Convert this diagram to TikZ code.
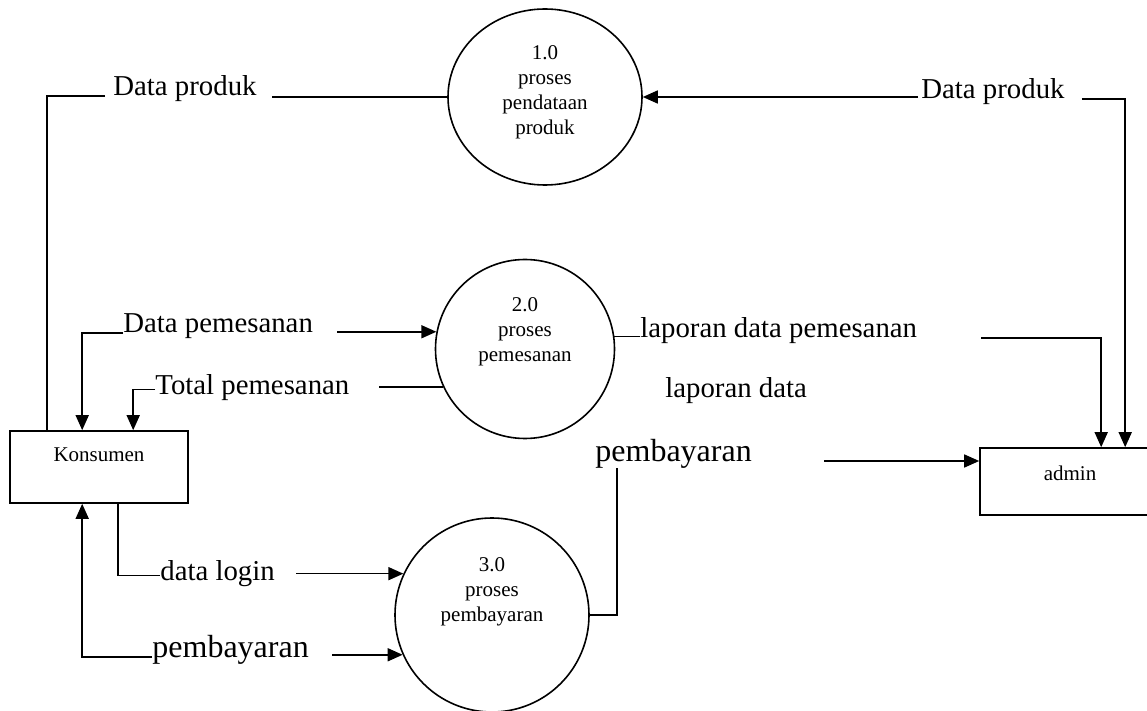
\documentclass[tikz,border=0pt]{standalone}
\usepackage{fontspec}
\setmainfont{Liberation Serif}
\usetikzlibrary{shapes.geometric,arrows.meta,calc}

\begin{document}
\begin{tikzpicture}[
  x=0.5pt,y=-0.5pt,
  proc/.style={draw,line width=0.8pt,inner sep=0pt},
  entity/.style={draw,line width=0.8pt,rectangle,inner sep=0pt},
  ]
  \tikzset{%
    flow/.style={line width=0.8pt,-{Triangle[length=7.5pt,width=6.5pt]}},
    link/.style={line width=0.8pt},
    lbl/.style={inner sep=0pt,anchor=base west,font=\fontsize{14.4}{17}\selectfont},
    biglbl/.style={lbl,font=\fontsize{16}{19}\selectfont},
    ptext/.style={align=center,font=\fontsize{10.5}{12.5}\selectfont},
  }
  \useasboundingbox (0,0) rectangle (1147,711);
  %Processes and entities
  \node[proc,ellipse,minimum width=97pt,minimum height=88pt,
    label={[ptext,yshift=2.25pt]center:{1.0\\proses\\pendataan\\produk}}](c1) at (545,97){};
  \node[proc,circle,minimum size=89.5pt,
    label={[ptext,yshift=8.75pt]center:{2.0\\proses\\pemesanan}}](c2) at (525,349){};
  \node[proc,circle,minimum size=97pt,
    label={[ptext,yshift=11.5pt]center:{3.0\\proses\\pembayaran}}](c3) at (492,615){};
  \node[entity,minimum width=89pt,minimum height=36pt,
    label={[ptext,yshift=6pt]center:Konsumen}](kons) at (99,467){};
  \node[entity,minimum width=90pt,minimum height=33.5pt,
    label={[ptext,yshift=4.25pt]center:admin}](admin) at (1070,481.5){};
  %Labels
  \node[lbl](dprodA) at (113,96){Data produk};
  \node[lbl](dprodB) at (921,99){Data produk};
  \node[lbl](dpesan) at (123,333){Data pemesanan};
  \node[lbl](tpesan) at (155,394){Total pemesanan};
  \node[lbl](lappesan) at (640,338){laporan data pemesanan};
  \node[lbl](lapdata) at (665,398){laporan data};
  \node[biglbl](pbyrB) at (595,461){pembayaran};
  \node[lbl](dlogin) at (160,580){data login};
  \node[biglbl](pbyrA) at (152,657){pembayaran};
  %Lines
  % Data produk, 1.0 to Konsumen
  \draw[link] (c1.west) -- ($(dprodA.east |- c1.west)+(15,0)$);
  \draw[link] (dprodA.base west) ++(-8,0) -| ($(kons.north west)+(38,0)$);
  % Data produk, admin to 1.0
  \draw[flow] ($(dprodB.west |- c1.east)+(-3,0)$) -- (c1.east);
  \draw[link] ($(dprodB.base east)+(17,0)$) -| ($(admin.north west)+(146,-50)$);
  \draw[flow] ($(admin.north west)+(146,-50)$) -- ($(admin.north west)+(146,0)$);
  % Data pemesanan
  \draw[flow] ($(dpesan.east |- c2.169)+(24,0)$) -- (c2.169);
  \draw[flow] (dpesan.base west) -| ($(kons.north west)+(73,0)$);
  % Total pemesanan
  \draw[link] (c2.205.8) -- ($(tpesan.east |- c2.205.8)+(29,0)$);
  \draw[flow] (tpesan.mid west) -| ($(kons.north west)+(124,0)$);
  % laporan data pemesanan
  \draw[link] (c2.8) -- (c2.8 -| lappesan.west);
  \draw[flow] ($(lappesan.base east)+(64,0)$) -| ($(admin.north west)+(122,0)$);
  % pembayaran, 3.0 to admin
  \draw[link] (c3.east) -| ($(pbyrB.south west)+(22,0)$);
  \draw[flow] ($(pbyrB.base east)+(72,0)$) -- (admin.west |- pbyrB.base);
  % data login
  \draw[link] ($(kons.south west)+(109,0)$) |- (dlogin.mid west);
  \draw[flow] ($(dlogin.east |- c3.155)+(21,0)$) -- (c3.155);
  % pembayaran, Konsumen to 3.0
  \draw[flow] (pbyrA.base west) -| ($(kons.south west)+(73,0)$);
  \draw[flow] ($(pbyrA.east |- c3.204)+(23,0)$) -- (c3.204);
\end{tikzpicture}
\end{document}
